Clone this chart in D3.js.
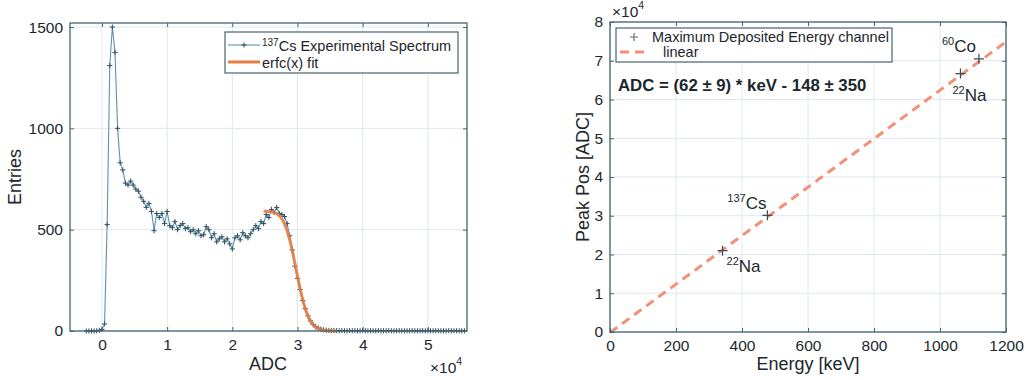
<!DOCTYPE html>
<html>
<head>
<meta charset="utf-8">
<script src="https://cdnjs.cloudflare.com/ajax/libs/d3/7.8.5/d3.min.js"></script>
<style>
  body { margin: 0; background: #fff; }
  svg text { font-family: "Liberation Sans", Arial, Helvetica, sans-serif; fill: #1c272d; }
</style>
</head>
<body>
<svg id="chart" width="1027" height="380"></svg>
<script>
// ---- left panel: 137Cs spectrum ----
var binStart = -2400, binWidth = 400;
var entries = [
  0, 0, 0, 0, 1, 3, 8, 35, 525, 1310,
  1500, 1375, 1000, 830, 795, 730, 720, 740, 720, 700,
  690, 660, 640, 610, 630, 590, 495, 580, 560, 580,
  530, 590, 520, 510, 540, 500, 520, 530, 505, 510,
  490, 500, 480, 495, 470, 475, 515, 500, 460, 480,
  440, 455, 465, 440, 455, 430, 405, 460, 470, 450,
  485, 470, 460, 480, 500, 520, 505, 540, 530, 575,
  560, 600, 585, 610, 580, 575, 565, 530, 470, 400,
  320, 260, 205, 150, 110, 75, 50, 32, 20, 14,
  9, 6, 4, 3, 2, 2,
  2, 1, 2, 1, 1, 2, 1, 2, 1, 1,
  2, 1, 1, 2, 1, 1, 2, 1, 1, 1,
  2, 1, 1, 1, 2, 1, 1, 1, 1, 2,
  1, 1, 1, 2, 1, 1, 1, 1, 2, 1,
  1, 1, 1, 2, 1, 1, 1, 1, 1, 1
];
var fitAdc     = [24800, 25500, 26000, 26500, 27000, 27500, 28000, 28500, 29000, 29500, 30000, 30500, 31000, 31500, 32000, 32500, 33000, 33500, 34000, 35000, 36000];
var fitEntries = [  592,   590,   588,   584,   575,   558,   530,   485,   425,   350,   270,   195,   130,    82,    48,    27,    14,     7,     3,     1,     0];
var specXTicks = [0, 1, 2, 3, 4, 5];      // x 10^4
var specYTicks = [0, 500, 1000, 1500];

// ---- right panel: calibration ----
var peakEnergy  = [341, 477, 1062, 1118];
var peakAdc     = [21000, 30100, 66700, 70500];
var peakMass    = ["22", "137", "22", "60"];
var peakElement = ["Na", "Cs", "Na", "Co"];
var linearEnergy = [0, 1200];
var linearAdc    = [-148, 74900];
var calXTicks = [0, 200, 400, 600, 800, 1000, 1200];
var calYTicks = [0, 1, 2, 3, 4, 5, 6, 7, 8]; // x 10^4

var axisColor = "#46656f", gridColor = "#dde8ee";
var svg = d3.select("#chart");

function panel(x, y, xTicks, yTicks) {
  var g = svg.append("g");
  var x0 = x.range()[0], x1 = x.range()[1], y0 = y.range()[0], y1 = y.range()[1];

  g.selectAll(".gx").data(xTicks).enter().append("line")
    .attr("x1", function (d) { return x(d); }).attr("x2", function (d) { return x(d); })
    .attr("y1", y0).attr("y2", y1)
    .style("stroke", gridColor).style("stroke-width", 1);
  g.selectAll(".gy").data(yTicks).enter().append("line")
    .attr("y1", function (d) { return y(d); }).attr("y2", function (d) { return y(d); })
    .attr("x1", x0).attr("x2", x1)
    .style("stroke", gridColor).style("stroke-width", 1);
  return g;
}

function axes(g, x, y, xTicks, yTicks, xFmt, yFmt) {
  var x0 = x.range()[0], x1 = x.range()[1], y0 = y.range()[0], y1 = y.range()[1];
  var bottom = g.append("g").attr("transform", "translate(0," + y0 + ")")
    .call(d3.axisBottom(x).tickValues(xTicks).tickSizeInner(-4).tickSizeOuter(0).tickPadding(8).tickFormat(xFmt));
  var top = g.append("g").attr("transform", "translate(0," + y1 + ")")
    .call(d3.axisTop(x).tickValues(xTicks).tickSizeInner(-4).tickSizeOuter(0).tickFormat(""));
  var left = g.append("g").attr("transform", "translate(" + x0 + ",0)")
    .call(d3.axisLeft(y).tickValues(yTicks).tickSizeInner(-4).tickSizeOuter(0).tickPadding(7).tickFormat(yFmt));
  var right = g.append("g").attr("transform", "translate(" + x1 + ",0)")
    .call(d3.axisRight(y).tickValues(yTicks).tickSizeInner(-4).tickSizeOuter(0).tickFormat(""));
  [bottom, top, left, right].forEach(function (a) {
    a.select(".domain").remove();
    a.selectAll(".tick line").style("stroke", axisColor).style("stroke-width", 1);
    a.selectAll(".tick text").style("font-size", "15.5px").style("fill", "#1c272d");
  });
  g.append("rect")
    .attr("x", x0).attr("y", y1).attr("width", x1 - x0).attr("height", y0 - y1)
    .style("fill", "none").style("stroke", axisColor).style("stroke-width", 1.3);
}

function plus(sel, size, color, width) {
  sel.append("path")
    .attr("d", "M" + (-size) + ",0H" + size + "M0," + (-size) + "V" + size)
    .style("stroke", color).style("stroke-width", width).style("fill", "none");
}

// ================= left panel =================
var xs = d3.scaleLinear().domain([-4900, 56000]).range([70, 467]);
var ys = d3.scaleLinear().domain([0, 1520]).range([331, 23]);
var lg = panel(xs, ys, specXTicks.map(function (d) { return d * 1e4; }), specYTicks);

var spectrum = entries.map(function (v, i) { return { adc: binStart + i * binWidth, n: v }; });
var fit = fitAdc.map(function (a, i) { return { adc: a, n: fitEntries[i] }; });

var specLine = d3.line().x(function (d) { return xs(d.adc); }).y(function (d) { return ys(d.n); });
lg.append("path").datum(spectrum).attr("d", specLine)
  .style("fill", "none").style("stroke", "#5b93b6").style("stroke-width", 1.1);
lg.selectAll(".mk").data(spectrum).enter().append("g")
  .attr("transform", function (d) { return "translate(" + xs(d.adc) + "," + ys(d.n) + ")"; })
  .each(function () { plus(d3.select(this), 2.6, "#33505f", 1); });

var fitLine = d3.line().curve(d3.curveMonotoneX)
  .x(function (d) { return xs(d.adc); }).y(function (d) { return ys(d.n); });
lg.append("path").datum(fit).attr("d", fitLine)
  .style("fill", "none").style("stroke", "#e57d44").style("stroke-width", 3).style("opacity", 0.9);

axes(lg, xs, ys, specXTicks.map(function (d) { return d * 1e4; }), specYTicks,
  function (d) { return d / 1e4; }, function (d) { return d; });

// legend
lg.append("rect").attr("x", 225).attr("y", 32).attr("width", 233).attr("height", 41)
  .style("fill", "#fff").style("stroke", axisColor).style("stroke-width", 1.2);
lg.append("line").attr("x1", 228).attr("x2", 260).attr("y1", 45).attr("y2", 45)
  .style("stroke", "#5b93b6").style("stroke-width", 1.1);
plus(lg.append("g").attr("transform", "translate(244,45)"), 2.6, "#33505f", 1);
var t1 = lg.append("text").attr("x", 262).attr("y", 50.5).style("font-size", "14.5px");
t1.append("tspan").text("137").style("font-size", "10px").attr("dy", -5);
t1.append("tspan").text("Cs Experimental Spectrum").attr("dy", 5);
lg.append("line").attr("x1", 228).attr("x2", 260).attr("y1", 62).attr("y2", 62)
  .style("stroke", "#e57d44").style("stroke-width", 3);
lg.append("text").attr("x", 262).attr("y", 67.5).style("font-size", "14.5px").text("erfc(x) fit");

// labels
lg.append("text").attr("x", 268).attr("y", 370).attr("text-anchor", "middle")
  .style("font-size", "18px").text("ADC");
lg.append("text").attr("transform", "translate(21,177) rotate(-90)").attr("text-anchor", "middle")
  .style("font-size", "18px").text("Entries");
var e1 = lg.append("text").attr("x", 430).attr("y", 373).style("font-size", "15.5px");
e1.append("tspan").text("\u00d710");
e1.append("tspan").text("4").style("font-size", "10.5px").attr("dy", -8);

// ================= right panel =================
var xc = d3.scaleLinear().domain([0, 1200]).range([610, 1006]);
var yc = d3.scaleLinear().domain([0, 80000]).range([332, 22]);
var rg = panel(xc, yc, calXTicks, calYTicks.map(function (d) { return d * 1e4; }));

var linLine = d3.line()
  .x(function (d, i) { return xc(linearEnergy[i]); })
  .y(function (d, i) { return yc(linearAdc[i]); });
rg.append("path").datum(linearEnergy).attr("d", linLine)
  .style("fill", "none").style("stroke", "#f2907a").style("stroke-width", 3)
  .style("stroke-dasharray", "9,6");

rg.selectAll(".pk").data(peakEnergy).enter().append("g")
  .attr("transform", function (d, i) { return "translate(" + xc(d) + "," + yc(peakAdc[i]) + ")"; })
  .each(function () { plus(d3.select(this), 5, "#3b4c55", 1.2); });

// isotope labels: offset from the point, anchor
var labelPos = [
  { dx: 4, dy: 21, anchor: "start" },
  { dx: -1, dy: -6, anchor: "end" },
  { dx: -8, dy: 27, anchor: "start" },
  { dx: -3, dy: -7, anchor: "end" }
];
peakEnergy.forEach(function (e, i) {
  var p = labelPos[i];
  var t = rg.append("text")
    .attr("x", xc(e) + p.dx).attr("y", yc(peakAdc[i]) + p.dy)
    .attr("text-anchor", p.anchor).style("font-size", "17px");
  t.append("tspan").text(peakMass[i]).style("font-size", "11px").attr("dy", -7);
  t.append("tspan").text(peakElement[i]).attr("dy", 7);
});

axes(rg, xc, yc, calXTicks, calYTicks.map(function (d) { return d * 1e4; }),
  function (d) { return d; }, function (d) { return d / 1e4; });

// legend
rg.append("rect").attr("x", 616).attr("y", 28).attr("width", 276).attr("height", 34)
  .style("fill", "#fff").style("stroke", axisColor).style("stroke-width", 1.2);
plus(rg.append("g").attr("transform", "translate(634,37)"), 4, "#5a6a72", 1.1);
rg.append("text").attr("x", 652).attr("y", 42).style("font-size", "14.5px")
  .text("Maximum Deposited Energy channel");
rg.append("line").attr("x1", 620).attr("x2", 648).attr("y1", 52).attr("y2", 52)
  .style("stroke", "#f2907a").style("stroke-width", 3).style("stroke-dasharray", "9,6");
rg.append("text").attr("x", 663).attr("y", 57).style("font-size", "14.5px").text("linear");

rg.append("text").attr("x", 618).attr("y", 91).style("font-size", "16.8px").style("font-weight", "bold")
  .text("ADC = (62 \u00b1 9) * keV - 148 \u00b1 350");

rg.append("text").attr("x", 808).attr("y", 370).attr("text-anchor", "middle")
  .style("font-size", "18px").text("Energy [keV]");
rg.append("text").attr("transform", "translate(589,177) rotate(-90)").attr("text-anchor", "middle")
  .style("font-size", "18px").text("Peak Pos [ADC]");
var e2 = rg.append("text").attr("x", 612).attr("y", 17).style("font-size", "15.5px");
e2.append("tspan").text("\u00d710");
e2.append("tspan").text("4").style("font-size", "10.5px").attr("dy", -8);
</script>
</body>
</html>
